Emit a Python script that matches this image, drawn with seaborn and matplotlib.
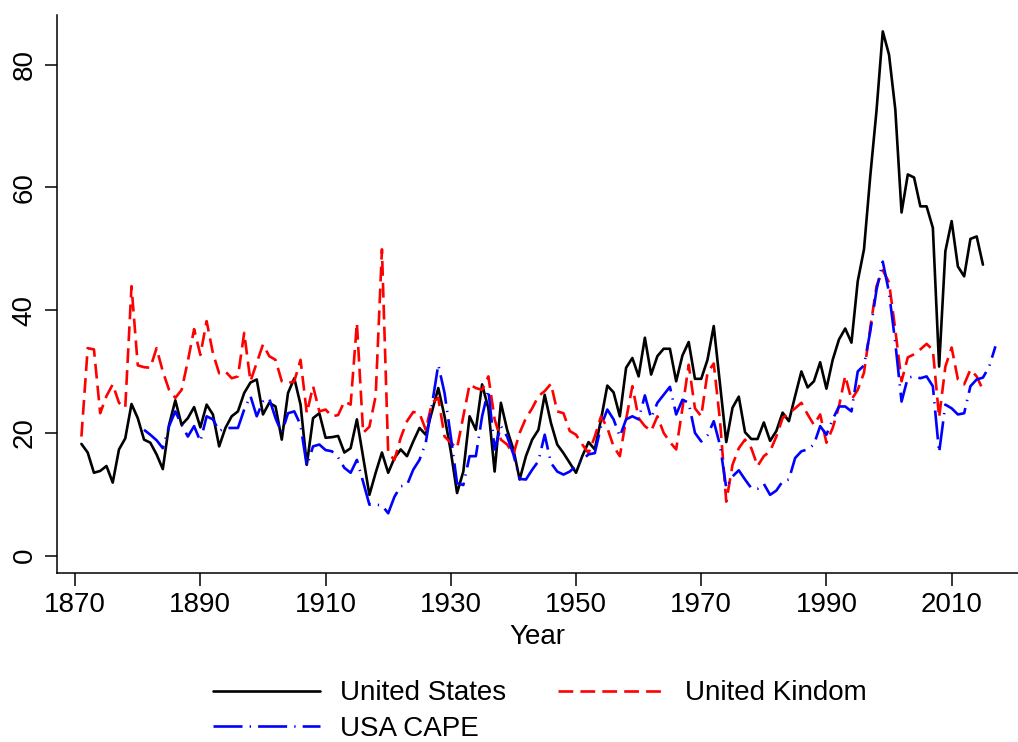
import numpy as np
import pandas as pd
import matplotlib
matplotlib.use("Agg")
import matplotlib.pyplot as plt
import seaborn as sns

# Price-earnings ratios by year
us_years = list(range(1871, 2016))
us_pe = [
    18.2, 16.8, 13.5, 13.8, 14.6, 11.9, 17.3, 19.1, 24.7, 22.4,   # 1871-1880
    18.9, 18.4, 16.5, 14.1, 21.3, 25.3, 21.3, 22.4, 24.2, 20.9,   # 1881-1890
    24.6, 23.0, 17.8, 20.8, 22.7, 23.5, 26.5, 28.2, 28.7, 23.0,   # 1891-1900
    24.9, 24.3, 18.9, 26.5, 28.9, 24.6, 14.8, 22.4, 23.2, 19.2,   # 1901-1910
    19.3, 19.5, 16.8, 17.5, 22.2, 16.0, 9.9, 13.5, 16.8, 13.5,    # 1911-1920
    15.9, 17.3, 16.2, 18.6, 20.8, 19.7, 23.5, 27.3, 22.7, 17.0,   # 1921-1930
    10.2, 13.7, 22.7, 20.5, 27.9, 24.0, 13.7, 24.9, 20.5, 17.3,   # 1931-1940
    12.4, 16.2, 18.9, 20.5, 26.2, 21.6, 18.1, 16.7, 15.1, 13.5,   # 1941-1950
    16.2, 18.5, 17.3, 22.2, 27.7, 26.6, 22.7, 30.6, 32.2, 29.2,   # 1951-1960
    35.5, 29.5, 32.5, 33.7, 33.7, 28.4, 32.6, 34.8, 28.8, 28.8,   # 1961-1970
    31.9, 37.4, 28.0, 18.5, 24.1, 25.9, 20.1, 19.0, 19.0, 21.7,   # 1971-1980
    18.7, 20.3, 23.3, 21.9, 26.0, 30.0, 27.4, 28.4, 31.5, 27.2,   # 1981-1990
    31.9, 35.2, 37.0, 34.7, 44.7, 49.9, 61.8, 72.5, 85.4, 81.6,   # 1991-2000
    72.7, 55.9, 62.1, 61.6, 56.9, 56.9, 53.4, 30.8, 49.6, 54.5,   # 2001-2010
    47.1, 45.5, 51.6, 52.0, 47.4,                                 # 2011-2015
]

uk_years = list(range(1871, 2016))
uk_pe = [
    19.4, 33.8, 33.6, 23.2, 26.0, 27.9, 24.9, 24.1, 43.9, 31.0,   # 1871-1880
    30.7, 30.6, 33.8, 30.0, 27.0, 25.7, 27.0, 31.7, 36.9, 32.7,   # 1881-1890
    38.2, 33.0, 29.7, 30.0, 28.9, 29.2, 36.3, 28.4, 31.4, 34.4,   # 1891-1900
    32.5, 31.9, 28.4, 28.1, 28.4, 31.9, 23.2, 27.6, 23.5, 23.8,   # 1901-1910
    22.7, 22.9, 25.1, 24.6, 37.9, 20.0, 21.0, 26.0, 49.9, 16.7,   # 1911-1920
    15.6, 19.2, 21.9, 23.4, 23.2, 20.5, 24.9, 25.7, 19.4, 18.4,   # 1921-1930
    17.5, 22.7, 27.9, 27.3, 27.0, 29.2, 22.2, 18.9, 18.1, 16.5,   # 1931-1940
    20.0, 22.4, 24.0, 26.0, 26.8, 28.0, 23.5, 23.2, 20.3, 19.7,   # 1941-1950
    18.1, 16.7, 19.4, 22.7, 20.8, 17.8, 16.2, 22.2, 27.6, 22.4,   # 1951-1960
    21.1, 20.3, 22.7, 20.0, 18.5, 17.3, 24.0, 31.1, 24.0, 22.7,   # 1961-1970
    29.8, 31.3, 22.0, 8.8, 14.8, 17.5, 18.9, 17.5, 14.6, 16.2,    # 1971-1980
    17.0, 19.4, 22.4, 23.2, 24.0, 24.9, 23.0, 21.3, 23.0, 18.4,   # 1981-1990
    20.8, 24.3, 29.3, 25.4, 27.0, 29.8, 37.1, 43.9, 46.5, 44.5,   # 1991-2000
    36.8, 28.4, 32.3, 32.8, 33.6, 34.5, 33.5, 22.5, 30.8, 33.9,   # 2001-2010
    28.7, 27.9, 30.3, 29.2, 27.0,                                 # 2011-2015
]

cape_years = list(range(1881, 2018))
cape_pe = [
    20.5, 19.7, 18.8, 17.5, 21.1, 23.5, 21.3, 19.4, 21.1, 18.6,   # 1881-1890
    22.7, 22.2, 20.3, 20.8, 20.8, 20.8, 23.8, 26.0, 22.7, 25.1,   # 1891-1900
    25.6, 22.4, 20.0, 23.2, 23.5, 21.3, 14.6, 17.8, 18.1, 17.2,   # 1901-1910
    17.0, 16.0, 14.3, 13.5, 15.6, 12.0, 8.3, 8.3, 8.2, 6.9,       # 1911-1920
    9.6, 11.3, 11.5, 14.0, 15.6, 18.4, 24.6, 31.1, 26.5, 19.4,    # 1921-1930
    11.8, 11.5, 16.2, 16.2, 22.7, 27.0, 17.3, 21.1, 19.4, 16.5,   # 1931-1940
    12.5, 12.4, 14.0, 15.4, 19.7, 15.1, 13.7, 13.2, 13.7, 14.6,   # 1941-1950
    15.6, 16.5, 16.7, 21.1, 23.8, 22.2, 19.4, 22.2, 22.7, 22.2,   # 1951-1960
    26.1, 22.4, 24.9, 26.2, 27.5, 23.0, 25.4, 24.9, 20.0, 18.6,   # 1961-1970
    19.6, 21.9, 18.0, 11.0, 12.9, 13.9, 12.4, 11.0, 10.9, 11.7,   # 1971-1980
    9.9, 10.6, 12.1, 12.4, 15.9, 17.0, 17.3, 18.1, 21.1, 19.7,    # 1981-1990
    22.2, 24.3, 24.3, 23.5, 30.0, 31.0, 36.5, 43.3, 47.9, 42.9,   # 1991-2000
    34.7, 25.1, 29.0, 29.2, 28.9, 29.2, 27.6, 16.8, 24.6, 24.0,   # 2001-2010
    23.0, 23.2, 27.6, 28.7, 29.0, 30.8, 34.1,                     # 2011-2017
]

series_labels = ["United States", "United Kindom", "USA CAPE"]
x_ticks = [1870, 1890, 1910, 1930, 1950, 1970, 1990, 2010]
y_ticks = [0, 20, 40, 60, 80]

us_df = pd.DataFrame({"year": us_years, "pe": us_pe})
uk_df = pd.DataFrame({"year": uk_years, "pe": uk_pe})
cape_df = pd.DataFrame({"year": cape_years, "pe": cape_pe})

sns.set_theme(style="ticks")
plt.rcParams["font.family"] = ["Liberation Sans", "DejaVu Sans"]
plt.rcParams["axes.linewidth"] = 1.1
plt.rcParams["text.color"] = "black"

FS = 20
fig = plt.figure(figsize=(10.18, 7.42), dpi=100)
ax = fig.add_axes([0.056, 0.228, 0.944, 0.752])

lw = 1.9
sns.lineplot(data=us_df, x="year", y="pe", ax=ax, color="black", linewidth=lw,
             label=series_labels[0])
sns.lineplot(data=uk_df, x="year", y="pe", ax=ax, color="#ff0000", linewidth=lw,
             linestyle=(0, (5.6, 2.7)), label=series_labels[1])
sns.lineplot(data=cape_df, x="year", y="pe", ax=ax, color="#0000ff", linewidth=lw,
             linestyle=(0, (11.0, 2.7, 0.5, 2.7)), label=series_labels[2])

ax.set_xlim(1867.1, 2020.6)
ax.set_ylim(-2.8, 88.1)
ax.set_xticks(x_ticks)
ax.set_yticks(y_ticks)
ax.tick_params(axis="both", which="major", labelsize=FS, length=9, width=1.1,
               color="black", labelcolor="black", direction="out", pad=5)
for lab in ax.get_yticklabels():
    lab.set_rotation(90)
    lab.set_va("center")
ax.set_xlabel("Year", fontsize=FS, color="black", labelpad=4)
ax.set_ylabel("")
ax.grid(False)
sns.despine(ax=ax, top=True, right=True)
for s in ("left", "bottom"):
    ax.spines[s].set_color("black")

# legend below the plot: row 1 -> US, UK ; row 2 -> CAPE
handles, labels = ax.get_legend_handles_labels()
ax.get_legend().remove()
order = [0, 2, 1]
leg = fig.legend([handles[i] for i in order], [labels[i] for i in order],
                 ncol=2, loc="upper left", bbox_to_anchor=(0.209, 0.083),
                 frameon=False, fontsize=FS, handlelength=3.85,
                 handletextpad=0.72, columnspacing=1.87, labelspacing=0.33,
                 borderpad=0.0, borderaxespad=0.0)
for t in leg.get_texts():
    t.set_color("black")

fig.savefig("out.png", dpi=100, facecolor="white")
